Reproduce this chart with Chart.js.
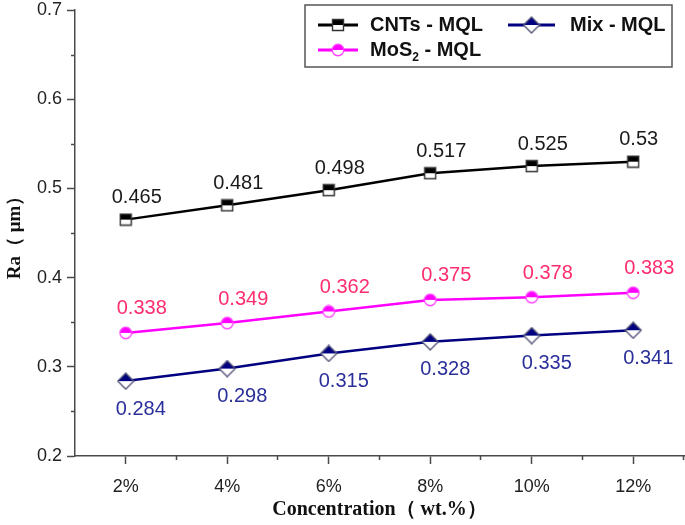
<!DOCTYPE html>
<html>
<head>
<meta charset="utf-8">
<script src="https://cdn.jsdelivr.net/npm/chart.js@4/dist/chart.umd.min.js"></script>
<style>
  html, body { margin: 0; padding: 0; background: #fff; }
</style>
</head>
<body>
<canvas id="raChart" width="685" height="525"></canvas>
<script>
var concentrations = ["2%", "4%", "6%", "8%", "10%", "12%"];
var cntsMql = [0.465, 0.481, 0.498, 0.517, 0.525, 0.53];
var mos2Mql = [0.338, 0.349, 0.362, 0.375, 0.378, 0.383];
var mixMql = [0.284, 0.298, 0.315, 0.328, 0.335, 0.341];

var axisColor = "#4a4a4a";

// half filled marker images (top half solid, bottom half white)
function halfMarker(shape, topColor, edgeColor) {
  var s = shape == "diamond" ? 18 : 14;
  var c = document.createElement("canvas");
  c.width = s;
  c.height = s;
  var ctx = c.getContext("2d");
  var m = s / 2;
  ctx.beginPath();
  if (shape == "square") {
    ctx.rect(1.5, 1.5, s - 3, s - 3);
  } else if (shape == "circle") {
    ctx.arc(m, m, m - 1.2, 0, Math.PI * 2);
  } else {
    ctx.moveTo(m, 1);
    ctx.lineTo(s - 1, m);
    ctx.lineTo(m, s - 1);
    ctx.lineTo(1, m);
    ctx.closePath();
  }
  ctx.fillStyle = "#fff";
  ctx.fill();
  ctx.save();
  ctx.clip();
  ctx.fillStyle = topColor;
  ctx.fillRect(0, 0, s, m);
  ctx.restore();
  ctx.lineWidth = 1.4;
  ctx.strokeStyle = edgeColor;
  ctx.stroke();
  return c;
}

var squareMark = halfMarker("square", "#000", "#333");
var circleMark = halfMarker("circle", "#ff00ff", "#ff44ff");
var diamondMark = halfMarker("diamond", "#000080", "#55557a");

// value labels next to every point
var valueLabels = {
  id: "valueLabels",
  afterDatasetsDraw: function (chart) {
    var ctx = chart.ctx;
    ctx.save();
    ctx.font = "20px 'Liberation Sans', Arial, sans-serif";
    ctx.textAlign = "left";
    ctx.textBaseline = "middle";
    chart.data.datasets.forEach(function (ds, i) {
      var meta = chart.getDatasetMeta(i);
      ctx.fillStyle = ds.labelColor;
      meta.data.forEach(function (pt, j) {
        ctx.fillText(String(ds.data[j]), pt.x + ds.labelShift[0], pt.y + ds.labelShift[1]);
      });
    });
    ctx.restore();
  }
};

// short minor ticks between the major ones
var minorTicks = {
  id: "minorTicks",
  afterDraw: function (chart) {
    var ctx = chart.ctx;
    var xs = chart.scales.x, ys = chart.scales.y;
    var area = chart.chartArea;
    ctx.save();
    ctx.strokeStyle = axisColor;
    ctx.lineWidth = 1.5;
    ctx.beginPath();
    for (var k = 0; k < ys.ticks.length - 1; k++) {
      var v = (ys.ticks[k].value + ys.ticks[k + 1].value) / 2;
      var py = Math.round(ys.getPixelForValue(v)) + 0.5;
      ctx.moveTo(area.left - 4, py);
      ctx.lineTo(area.left, py);
    }
    for (var i = 0; i < concentrations.length; i++) {
      var px = Math.round((xs.getPixelForValue(i) + xs.getPixelForValue(i + 1)) / 2) - 0.5;
      ctx.moveTo(px, area.bottom);
      ctx.lineTo(px, area.bottom + 4);
    }
    ctx.stroke();
    ctx.restore();
  }
};

// boxed legend at the top right
var boxLegend = {
  id: "boxLegend",
  afterDraw: function (chart) {
    var ctx = chart.ctx;
    var ds = chart.data.datasets;
    var marks = [squareMark, circleMark, diamondMark];
    var spots = [[318, 25], [318, 50], [508, 25]];
    ctx.save();
    ctx.strokeStyle = "#555";
    ctx.lineWidth = 1.5;
    ctx.strokeRect(305, 5, 367, 62);
    ctx.textBaseline = "middle";
    ctx.textAlign = "left";
    ds.forEach(function (d, i) {
      var x = spots[i][0], y = spots[i][1];
      var w = i == 2 ? 47 : 40;
      ctx.strokeStyle = d.borderColor;
      ctx.lineWidth = 3;
      ctx.beginPath();
      ctx.moveTo(x, y);
      ctx.lineTo(x + w, y);
      ctx.stroke();
      var m = marks[i];
      ctx.drawImage(m, x + w / 2 - m.width / 2, y - m.height / 2);
      ctx.fillStyle = "#111";
      var tx = x + (i == 2 ? 62 : 52);
      var parts = d.legendParts;
      ctx.font = "bold 20px 'Liberation Sans', Arial, sans-serif";
      ctx.fillText(parts[0], tx, y);
      if (parts.length > 1) {
        tx += ctx.measureText(parts[0]).width;
        ctx.font = "bold 12px 'Liberation Sans', Arial, sans-serif";
        ctx.fillText(parts[1], tx, y + 8);
        tx += ctx.measureText(parts[1]).width;
        ctx.font = "bold 20px 'Liberation Sans', Arial, sans-serif";
        ctx.fillText(parts[2], tx, y);
      }
    });
    ctx.restore();
  }
};

new Chart("raChart", {
  type: "line",
  data: {
    labels: concentrations,
    datasets: [
      {
        label: "CNTs - MQL",
        legendParts: ["CNTs - MQL"],
        data: cntsMql,
        borderColor: "#000",
        borderWidth: 2.5,
        pointStyle: squareMark,
        labelColor: "#1a1a1a",
        labelShift: [-14, -22],
      },
      {
        label: "MoS2 - MQL",
        legendParts: ["MoS", "2", " - MQL"],
        data: mos2Mql,
        borderColor: "#ff00ff",
        borderWidth: 2.5,
        pointStyle: circleMark,
        labelColor: "#ff2d6e",
        labelShift: [-9, -24],
      },
      {
        label: "Mix - MQL",
        legendParts: ["Mix - MQL"],
        data: mixMql,
        borderColor: "#000080",
        borderWidth: 2.5,
        pointStyle: diamondMark,
        labelColor: "#2a2f9a",
        labelShift: [-10, 28],
      },
    ],
  },
  options: {
    responsive: false,
    animation: false,
    devicePixelRatio: 1,
    layout: { autoPadding: false, padding: { top: 10, right: 1, left: 0, bottom: 0 } },
    elements: { line: { tension: 0 }, point: { radius: 7 } },
    plugins: {
      legend: { display: false },
      tooltip: { enabled: false },
    },
    scales: {
      x: {
        offset: true,
        afterFit: function (s) { s.height = 69; s.paddingRight = 0; s.paddingLeft = 0; },
        border: { color: axisColor, width: 1.5 },
        grid: { drawOnChartArea: false, tickLength: 8, tickColor: axisColor, tickWidth: 1.5 },
        ticks: { color: "#222", padding: 12, maxRotation: 0, font: { family: "'Liberation Sans', Arial", size: 18 } },
        title: {
          display: true,
          text: "Concentration（ wt.%）",
          color: "#111",
          padding: { top: 4, bottom: 3 },
          font: { family: "'Liberation Serif', 'Times New Roman', serif", size: 20, weight: "bold" },
        },
      },
      y: {
        min: 0.2,
        max: 0.7,
        afterFit: function (s) { s.width = 75; s.paddingTop = 0; s.paddingBottom = 0; },
        border: { color: axisColor, width: 1.5 },
        grid: { drawOnChartArea: false, tickLength: 8, tickColor: axisColor, tickWidth: 1.5 },
        ticks: {
          stepSize: 0.1,
          color: "#222",
          padding: 5,
          font: { family: "'Liberation Sans', Arial", size: 18 },
          callback: function (v) { return v.toFixed(1); },
        },
        title: {
          display: true,
          text: "Ra（ μm）",
          color: "#111",
          padding: { top: 4, bottom: 4 },
          font: { family: "'Liberation Serif', 'Times New Roman', serif", size: 19, weight: "bold" },
        },
      },
    },
  },
  plugins: [valueLabels, minorTicks, boxLegend],
});
</script>
</body>
</html>
